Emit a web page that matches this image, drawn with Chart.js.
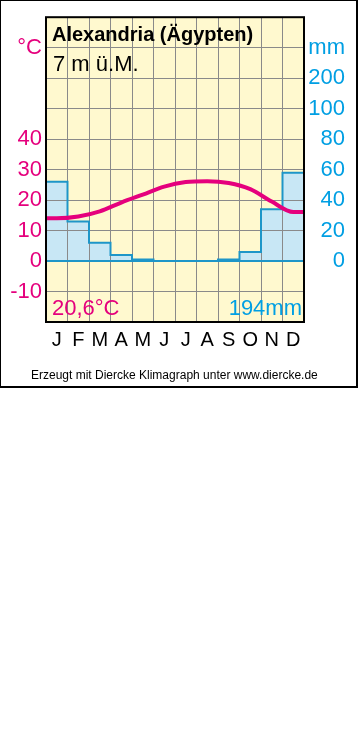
<!DOCTYPE html>
<html>
<head>
<meta charset="utf-8">
<script src="https://cdn.jsdelivr.net/npm/chart.js@4/dist/chart.umd.min.js"></script>
<style>
  body { margin: 0; background: #fff; font-family: "Liberation Sans", Arial, sans-serif; }
  #wrap { position: relative; width: 359px; height: 751px; }
  #frame { position: absolute; left: 0; top: 0; width: 355px; height: 385px;
           border: 1px solid #000; border-right-width: 2px; border-bottom-width: 2px; }
  canvas { position: absolute; left: 0; top: 0; }
  .txt { position: absolute; white-space: nowrap; line-height: 1; }
</style>
</head>
<body>
<div id="wrap">
  <div id="frame"></div>
  <canvas id="klima" width="359" height="388"></canvas>
  <div class="txt" id="ort" style="left:52px; top:23.5px; font-size:20px; font-weight:bold; color:#000;"></div>
  <div class="txt" id="hoehe" style="left:53px; top:52.5px; font-size:22px; color:#000;"></div>
  <div class="txt" id="tmittel" style="left:52px; top:297px; font-size:22px; color:#e5007d;"></div>
  <div class="txt" id="nsumme" style="right:57px; top:297px; font-size:22px; color:#009fe3;"></div>
  <div class="txt" id="quelle" style="left:31px; top:368.5px; font-size:12px; color:#000;"></div>
</div>
<script>
// Stationsdaten
const ort = 'Alexandria (Ägypten)';
const hoehe = '7 m ü.M.';
const monate = ['J', 'F', 'M', 'A', 'M', 'J', 'J', 'A', 'S', 'O', 'N', 'D'];
const temperatur = [14.0, 14.6, 16.3, 19.2, 21.8, 24.4, 25.9, 26.2, 25.6, 23.6, 19.5, 16.1]; // °C
const niederschlag = [52, 26, 12, 4, 1, 0, 0, 0, 1, 6, 34, 58]; // mm
const tempTicks = [-10, 0, 10, 20, 30, 40];
const nsTicks = [0, 20, 40, 60, 80, 100, 200];

const MAGENTA = '#e5007d';
const BLAU = '#009fe3';
const BLAU_LINIE = '#1e96c8';
const BLAU_FLAECHE = '#c8e7f5';
const GELB = '#fff9cf';
const GITTER = '#8a8a8a';

// mm -> Temperaturachse (bis 100 mm: 20 mm = 10 °C, darueber 100 mm = 10 °C)
function nsZuAchse(mm) {
    return mm <= 100 ? mm / 2 : 50 + (mm - 100) / 10;
}

// Punkte in Monatsmitte, Rand links/rechts mit Jan/Dez
function alsPunkte(werte, umrechnen) {
    const f = umrechnen || (v => v);
    const pts = [{ x: 0, y: f(werte[0]) }];
    werte.forEach((v, i) => pts.push({ x: i + 0.5, y: f(v) }));
    pts.push({ x: 12, y: f(werte[werte.length - 1]) });
    return pts;
}

const mittel = temperatur.reduce((a, b) => a + b, 0) / temperatur.length;
const summe = niederschlag.reduce((a, b) => a + b, 0);

document.getElementById('ort').textContent = ort;
document.getElementById('hoehe').textContent = hoehe;
document.getElementById('tmittel').textContent = mittel.toFixed(1).replace('.', ',') + '°C';
document.getElementById('nsumme').textContent = summe + 'mm';
document.getElementById('quelle').textContent = 'Erzeugt mit Diercke Klimagraph unter www.diercke.de';

const schrift = { family: '"Liberation Sans", Arial, sans-serif', size: 22 };
const schriftMonat = { family: '"Liberation Sans", Arial, sans-serif', size: 20 };

// gelber Hintergrund hinter dem Diagrammbereich, Rahmen darueber
const rahmen = {
    id: 'rahmen',
    afterLayout(chart) {
        const a = chart.chartArea;
        chart.canvas.style.background = 'linear-gradient(' + GELB + ',' + GELB + ') ' + a.left + 'px ' + a.top + 'px / ' +
            (a.right - a.left) + 'px ' + (a.bottom - a.top) + 'px no-repeat';
    },
    afterDraw(chart) {
        const a = chart.chartArea;
        const ctx = chart.ctx;
        ctx.save();
        ctx.strokeStyle = '#000';
        ctx.lineWidth = 2;
        ctx.strokeRect(a.left, a.top, a.right - a.left, a.bottom - a.top);
        ctx.restore();
    }
};

const ctx = document.getElementById('klima').getContext('2d');
const klimaChart = new Chart(ctx, {
    type: 'line',
    data: {
        datasets: [{
            label: 'Temperatur',
            data: alsPunkte(temperatur),
            borderColor: MAGENTA,
            borderWidth: 4,
            cubicInterpolationMode: 'monotone',
            pointRadius: 0,
            fill: false,
            yAxisID: 'y',
        }, {
            label: 'Niederschlag',
            data: alsPunkte(niederschlag, nsZuAchse),
            borderColor: BLAU_LINIE,
            backgroundColor: BLAU_FLAECHE,
            borderWidth: 2,
            stepped: 'middle',
            pointRadius: 0,
            fill: { value: 0 },
            yAxisID: 'y2',
        }],
    },
    options: {
        responsive: false,
        animation: false,
        devicePixelRatio: 1,
        layout: { padding: { left: 0, top: 17, right: 14, bottom: 0 } },
        plugins: {
            legend: { display: false },
            tooltip: { enabled: false },
            filler: { drawTime: 'beforeDraw' },
        },
        scales: {
            x: {
                type: 'linear',
                min: 0,
                max: 12,
                border: { display: false },
                grid: { color: GITTER, lineWidth: 1, drawTicks: false },
                afterFit: s => { s.height = 66; },
                ticks: {
                    stepSize: 1,
                    autoSkip: false,
                    maxRotation: 0,
                    padding: 6,
                    labelOffset: 10.75,
                    color: '#000',
                    font: schriftMonat,
                    callback: v => (v < 12 ? monate[v] : ''),
                },
            },
            y: {
                position: 'left',
                min: -20,
                max: 80,
                border: { display: false },
                grid: {
                    drawTicks: false,
                    color: c => (c.tick && c.tick.value === 0 ? BLAU_LINIE : GITTER),
                    lineWidth: c => (c.tick && c.tick.value === 0 ? 2 : 1),
                },
                afterFit: s => { s.width = 46; },
                ticks: {
                    stepSize: 10,
                    padding: 4,
                    color: MAGENTA,
                    font: schrift,
                    callback: v => (v === 70 ? '°C' : (tempTicks.includes(v) ? String(v) : '')),
                },
            },
            y2: {
                position: 'right',
                min: -20,
                max: 80,
                border: { display: false },
                grid: { display: false, drawTicks: false },
                afterFit: s => { s.width = 41; },
                ticks: {
                    stepSize: 10,
                    crossAlign: 'far',
                    color: BLAU,
                    font: schrift,
                    callback: v => {
                        if (v === 70) return 'mm';
                        const mm = nsTicks.find(n => nsZuAchse(n) === v);
                        return mm === undefined ? '' : String(mm);
                    },
                },
            },
        },
    },
    plugins: [rahmen],
});
</script>
</body>
</html>
